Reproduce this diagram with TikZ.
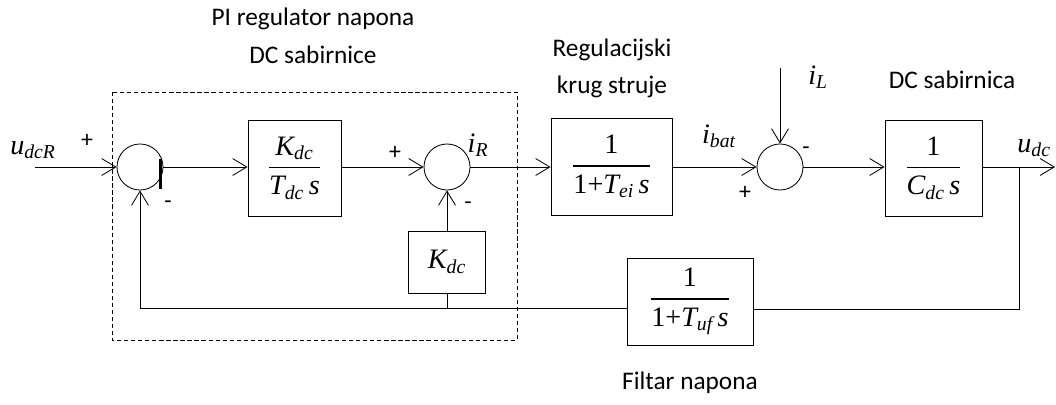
\documentclass[tikz,border=0pt]{standalone}
\usepackage{amsmath}
\usepackage{fontspec}
\setmainfont{Carlito}
\newfontfamily\tnr{Liberation Serif}
\usetikzlibrary{arrows.meta,calc}
\newcommand{\sig}[2]{{\tnr\itshape #1\textsubscript{#2}}}

\begin{document}
\begin{tikzpicture}[x=0.025cm,y=-0.025cm,line width=0.6pt,
  arr/.style={-{Straight Barb[length=10pt,width=12pt,line width=0.6pt]}},
  sum/.style={shape=circle, draw, inner sep=0pt, minimum size=1.15cm},
  blk/.style={draw, inner sep=0pt, font=\fontsize{20}{24}\selectfont},
  lab/.style={font=\fontsize{18}{21}\selectfont},
  sgn/.style={font=\fontsize{17}{19}\selectfont},
  var/.style={font=\fontsize{20}{24}\selectfont}]
\useasboundingbox (0,0) rectangle (1056,405);
\draw[dash pattern=on 3pt off 2pt] (112,92) rectangle (517,340);
\node[sum] (s1) at (140,167) {};
\node[sum] (s2) at (447,167) {};
\node[sum] (s3) at (780,167) {};
\node[blk, minimum width=2.325cm, minimum height=2.4cm] (pi) at (294.5,168)
  {$\dfrac{\hbox{\sig{K}{dc}}}{\hbox{\sig{T}{dc}\,\textit{\tnr s}}}$};
\node[blk, minimum width=1.925cm, minimum height=1.55cm] (kdc) at (447,262) {\sig{K}{dc}};
\node[blk, minimum width=3.025cm, minimum height=2.425cm] (cur) at (611.5,166.5)
  {$\dfrac{\hbox{\tnr 1}}{\hbox{\tnr 1+\sig{T}{ei}\,\itshape s}}$};
\node[blk, minimum width=2.425cm, minimum height=2.4cm] (bus) at (933.5,168)
  {$\dfrac{\hbox{\tnr 1}}{\hbox{\sig{C}{dc}\,\textit{\tnr s}}}$};
\node[blk, minimum width=3.15cm, minimum height=2.175cm] (filt) at (690,301.5)
  {$\dfrac{\hbox{\tnr 1}}{\hbox{\tnr 1+\sig{T}{uf}\,\itshape s}}$};
\coordinate (in) at (35,167);
\coordinate (iL) at (780,68);
\coordinate (out) at (1055,167);
\coordinate (br) at (1019,167);
\coordinate (fbR) at (1019,309);
\coordinate (fbL) at (140,308);
% forward path
\draw[arr] (in) -- (s1.west);
\draw[arr] (s1.east) -- (pi.west |- s1);
\draw[arr] (pi.east |- s2) -- (s2.west);
\draw[arr] (s2.east) -- (cur.west |- s2);
\draw[arr] (cur.east |- s3) -- (s3.west);
\draw[arr] (iL) -- (s3.north);
\draw[arr] (s3.east) -- (bus.west |- s3);
\draw[arr] (bus.east |- s3) -- (out);
% feedback
\draw (br) -- (fbR) -- (filt.east |- fbR);
\draw[arr] (filt.west |- fbL) -- (fbL) -- (s1.south);
\draw (kdc.south) -- (kdc.south |- fbL);
\draw[arr] (kdc.north) -- (s2.south);
\draw[line width=2pt] ($(s1.east)+(-3,-8)$) -- ($(s1.east)+(-3,22)$);
% labels
\node[lab] (t1) at (313,19) {PI regulator napona};
\node[lab] (t2) at (313,55) {DC sabirnice};
\node[lab] (t3) at (612,50) {Regulacijski};
\node[lab] (t4) at (612,87) {krug struje};
\node[lab] (t5) at (952,80) {DC sabirnica};
\node[lab] (t6) at (690,383) {Filtar napona};
\node[var] (u1) at (33,150) {\sig{u}{dcR}};
\node[var] (u2) at (1034,148) {\sig{u}{dc}};
\node[var] (i1) at (478,145) {\sig{i}{R}};
\node[var] (i2) at (719,136) {\sig{i}{bat}};
\node[var] (i3) at (818,77) {\sig{i}{L}};
\node[sgn] (p1) at (87,141) {+};
\node[sgn] (m1) at (168,205) {-};
\node[sgn] (p2) at (395,153) {+};
\node[sgn] (m2) at (468,206) {-};
\node[sgn] (m3) at (806,151) {-};
\node[sgn] (p3) at (745,193) {+};
\end{tikzpicture}
\end{document}
